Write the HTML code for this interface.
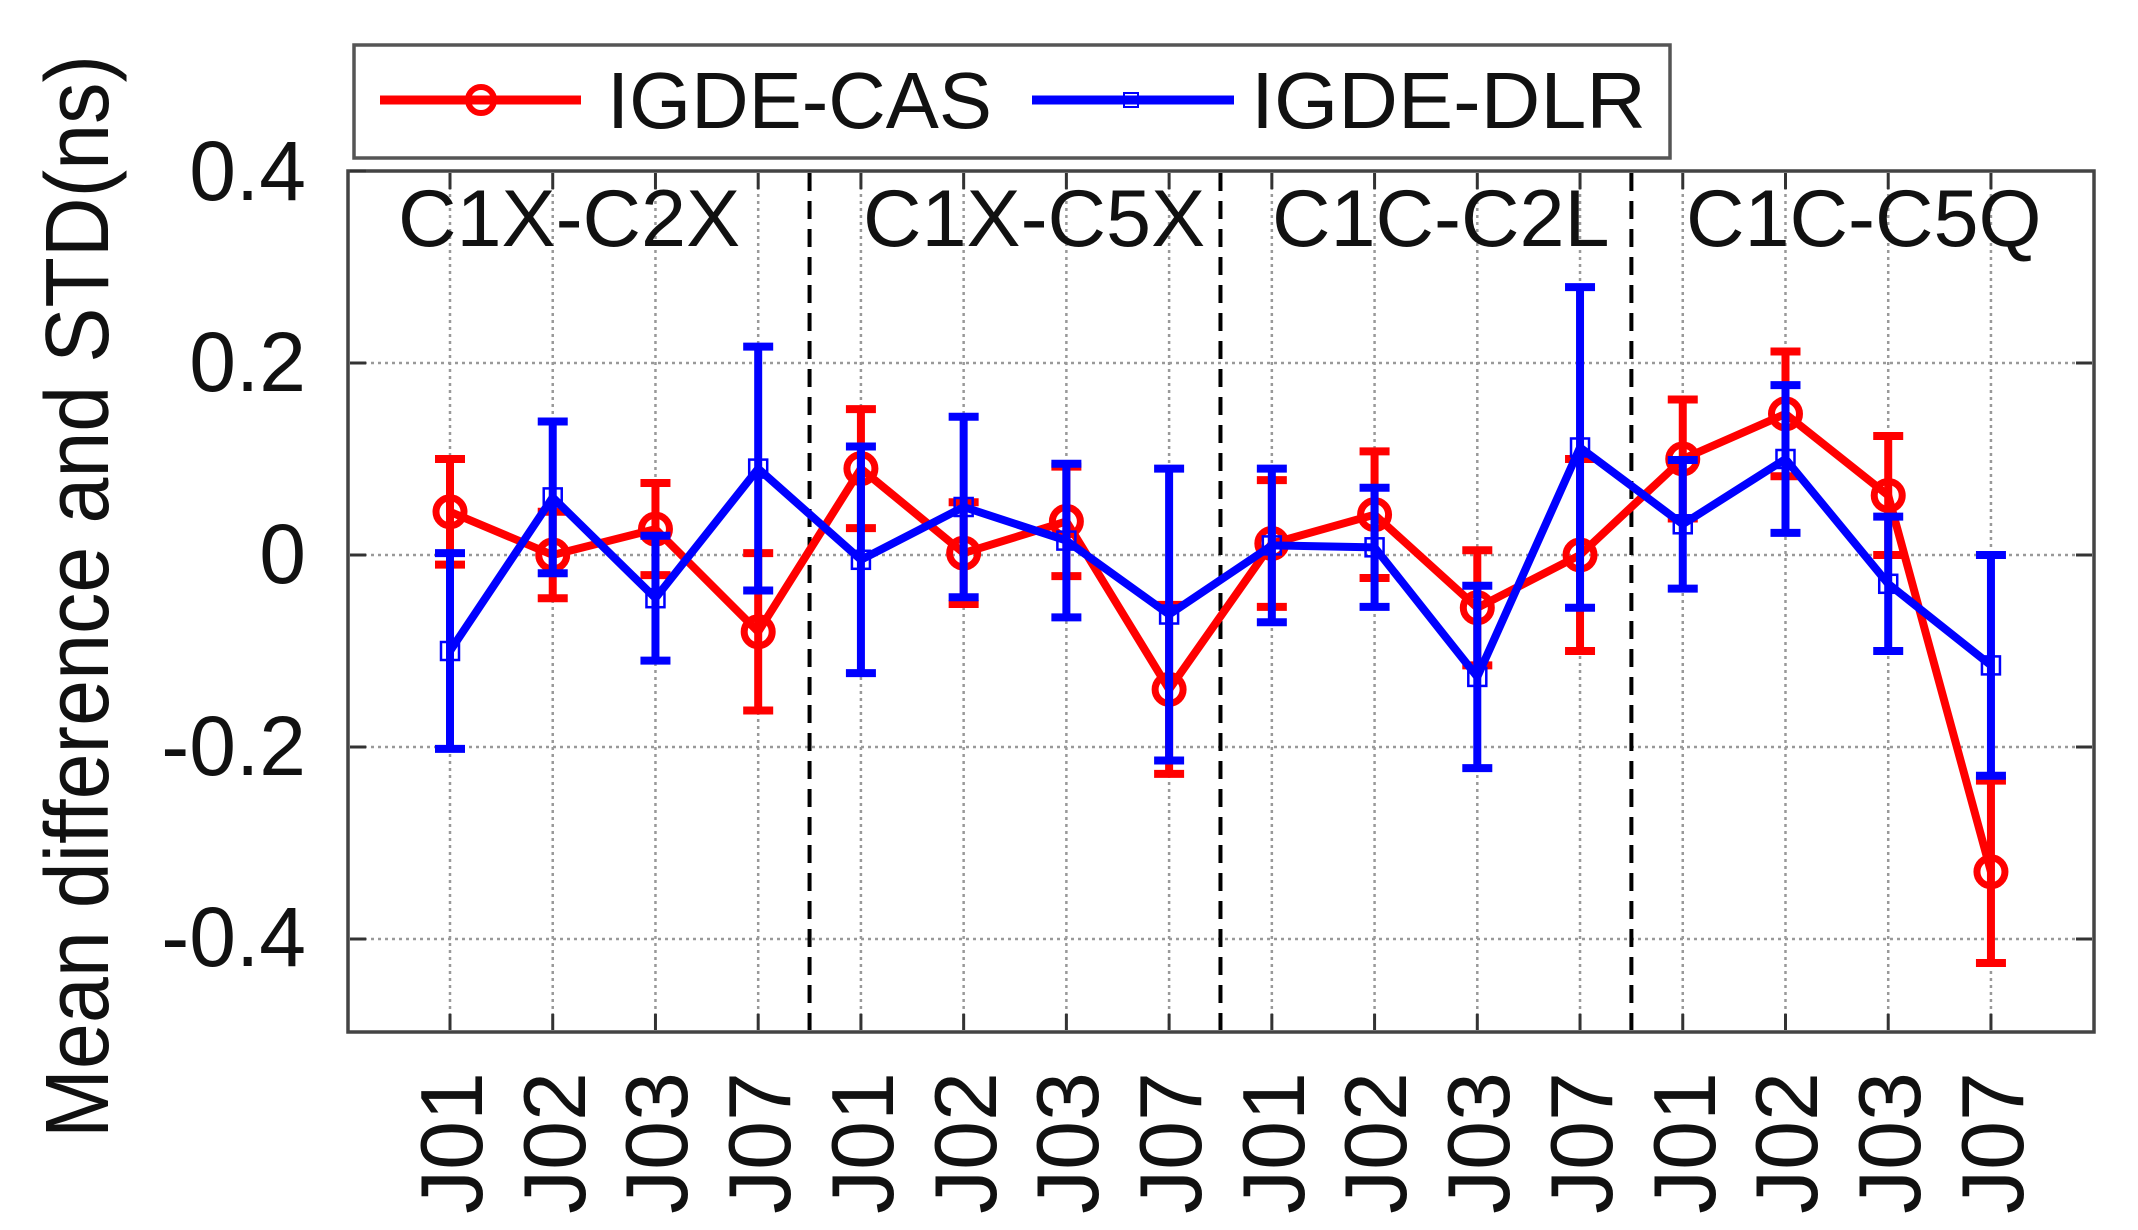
<!DOCTYPE html>
<html><head><meta charset="utf-8"><style>
html,body{margin:0;padding:0;background:#fff;}
svg{display:block;}
text{font-family:"Liberation Sans",sans-serif;fill:#111;}
</style></head><body>
<svg id="s" width="2138" height="1230" viewBox="0 0 2138 1230" xmlns="http://www.w3.org/2000/svg">
<rect x="0" y="0" width="2138" height="1230" fill="#fff"/>
<g id="grid" stroke="#999" stroke-width="2.5" stroke-dasharray="3,4"></g>
<g id="sep" stroke="#000" stroke-width="4" stroke-dasharray="18,10"></g>
<rect x="348" y="171" width="1746" height="861" fill="none" stroke="#444" stroke-width="3.5"/>
<g id="ticks" stroke="#333" stroke-width="3"></g>
<g id="red"></g>
<g id="blue"></g>
<!-- legend -->
<rect x="354" y="45" width="1316" height="113" fill="#fff" stroke="#555" stroke-width="3.5"/>
<line x1="380" y1="100" x2="581" y2="100" stroke="#f00" stroke-width="9"/>
<circle cx="481" cy="100" r="13" fill="none" stroke="#f00" stroke-width="6"/>
<text x="607" y="128" font-size="80" textLength="385" lengthAdjust="spacingAndGlyphs">IGDE-CAS</text>
<line x1="1032" y1="100" x2="1234" y2="100" stroke="#00f" stroke-width="9"/>
<rect x="1124" y="93" width="14" height="14" fill="none" stroke="#00f" stroke-width="2"/>
<text x="1251" y="128" font-size="80" textLength="395" lengthAdjust="spacingAndGlyphs">IGDE-DLR</text>
<!-- group labels -->
<text x="398" y="246" font-size="81">C1X-C2X</text>
<text x="863" y="246" font-size="81">C1X-C5X</text>
<text x="1272" y="246" font-size="81">C1C-C2L</text>
<text x="1686" y="246" font-size="81">C1C-C5Q</text>
<!-- y tick labels -->
<g font-size="84" text-anchor="end">
<text x="306" y="200">0.4</text>
<text x="306" y="391">0.2</text>
<text x="306" y="583">0</text>
<text x="306" y="775">-0.2</text>
<text x="306" y="966">-0.4</text>
</g>
<text transform="translate(108,1138) rotate(-90)" font-size="90" textLength="1083" lengthAdjust="spacingAndGlyphs">Mean difference and STD(ns)</text>
<!-- x labels -->
<g font-size="88" text-anchor="end">
<text transform="translate(482,1072) rotate(-90)">J01</text>
<text transform="translate(585,1072) rotate(-90)">J02</text>
<text transform="translate(687,1072) rotate(-90)">J03</text>
<text transform="translate(790,1072) rotate(-90)">J07</text>
<text transform="translate(893,1072) rotate(-90)">J01</text>
<text transform="translate(996,1072) rotate(-90)">J02</text>
<text transform="translate(1098,1072) rotate(-90)">J03</text>
<text transform="translate(1201,1072) rotate(-90)">J07</text>
<text transform="translate(1304,1072) rotate(-90)">J01</text>
<text transform="translate(1406,1072) rotate(-90)">J02</text>
<text transform="translate(1509,1072) rotate(-90)">J03</text>
<text transform="translate(1612,1072) rotate(-90)">J07</text>
<text transform="translate(1715,1072) rotate(-90)">J01</text>
<text transform="translate(1817,1072) rotate(-90)">J02</text>
<text transform="translate(1920,1072) rotate(-90)">J03</text>
<text transform="translate(2023,1072) rotate(-90)">J07</text>
</g>
</svg>
<script>
(function(){
var NS="http://www.w3.org/2000/svg";
function X(i){return 450+102.73*i;}
function Y(v){return 555-960*v;}
function el(p,t,a){var e=document.createElementNS(NS,t);for(var k in a)e.setAttribute(k,a[k]);p.appendChild(e);return e;}
var g=document.getElementById('grid'),sp=document.getElementById('sep'),tk=document.getElementById('ticks');
var yv=[0.2,0,-0.2,-0.4];
yv.forEach(function(v){el(g,'line',{x1:350,x2:2092,y1:Y(v),y2:Y(v)});
 el(tk,'line',{x1:350,x2:366,y1:Y(v),y2:Y(v)});el(tk,'line',{x1:2076,x2:2092,y1:Y(v),y2:Y(v)});});
el(tk,'line',{x1:350,x2:366,y1:Y(0.4),y2:Y(0.4)});
for(var i=0;i<16;i++){el(g,'line',{x1:X(i),x2:X(i),y1:173,y2:1030});
 el(tk,'line',{x1:X(i),x2:X(i),y1:173,y2:189});el(tk,'line',{x1:X(i),x2:X(i),y1:1014,y2:1030});}
[3.5,7.5,11.5].forEach(function(m){el(sp,'line',{x1:X(m),x2:X(m),y1:173,y2:1030});});
var cas=[[0.045,0.055],[0,0.045],[0.027,0.048],[-0.08,0.082],[0.09,0.062],[0.002,0.053],[0.035,0.057],[-0.14,0.088],[0.012,0.066],[0.042,0.066],[-0.055,0.06],[0,0.1],[0.1,0.062],[0.147,0.065],[0.062,0.062],[-0.33,0.095]];
var dlr=[[-0.1,0.102],[0.06,0.079],[-0.045,0.065],[0.09,0.127],[-0.005,0.118],[0.05,0.094],[0.015,0.08],[-0.062,0.152],[0.01,0.08],[0.008,0.062],[-0.127,0.095],[0.112,0.167],[0.032,0.067],[0.1,0.077],[-0.03,0.07],[-0.115,0.115]];
function draw(id,d,c,circ){var p=document.getElementById(id);
 d.forEach(function(q,i){var x=X(i);
  el(p,'line',{x1:x,x2:x,y1:Y(q[0]+q[1]),y2:Y(q[0]-q[1]),stroke:c,'stroke-width':8});
  el(p,'line',{x1:x-15,x2:x+15,y1:Y(q[0]+q[1]),y2:Y(q[0]+q[1]),stroke:c,'stroke-width':8});
  el(p,'line',{x1:x-15,x2:x+15,y1:Y(q[0]-q[1]),y2:Y(q[0]-q[1]),stroke:c,'stroke-width':8});});
 var pts=d.map(function(q,i){return X(i)+','+Y(q[0]);}).join(' ');
 el(p,'polyline',{points:pts,fill:'none',stroke:c,'stroke-width':8,'stroke-linejoin':'round'});
 d.forEach(function(q,i){var x=X(i),y=Y(q[0]);
  if(circ)el(p,'circle',{cx:x,cy:y,r:14,fill:'none',stroke:c,'stroke-width':7});
  else el(p,'rect',{x:x-9,y:y-9,width:18,height:18,fill:'none',stroke:c,'stroke-width':2.5});});}
draw('red',cas,'#f00',true);
draw('blue',dlr,'#00f',false);
})();
</script>
</body></html>
